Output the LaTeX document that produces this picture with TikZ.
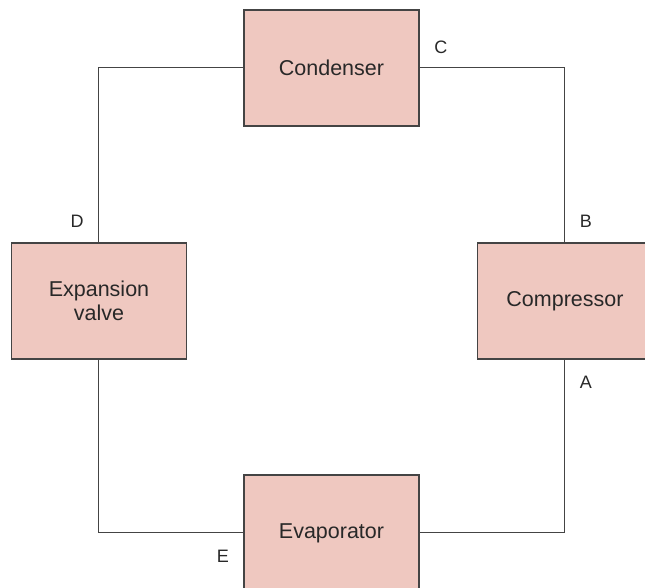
\documentclass[tikz,border=0pt]{standalone}
\usepackage{fontspec}
\setmainfont{Liberation Sans}
\usepackage{tikz}
\usetikzlibrary{positioning}
\definecolor{unitfill}{RGB}{239,200,192}
\definecolor{unitline}{RGB}{68,68,68}
\definecolor{unittext}{RGB}{40,40,40}

\begin{document}
\begin{tikzpicture}[
        x=0.5pt, y=-0.5pt,
        unit/.style={draw=unitline, rectangle, fill=unitfill, line width=0.65pt, minimum width=87.5pt, minimum height=58pt, align=center, text=unittext, font=\fontsize{10.75}{11.8}\selectfont, inner sep=0pt},
        pipe/.style={draw=unitline, line width=0.5pt},
        point/.style={text=unittext, font=\fontsize{9}{10}\selectfont, inner sep=0pt}
    ]
        \useasboundingbox (0,0) rectangle (645,588);
        \clip (0,0) rectangle (645,588);

        \node[unit] (cond) at (331.5,68) {Condenser};
        \node[unit] (valve) at (99,301) {Expansion\\valve};
        \node[unit] (comp) at (565,301) {Compressor};
        \node[unit] (evap) at (331.5,533) {Evaporator};

        \draw[pipe] (cond.west) -| (valve.north);
        \draw[pipe] (cond.east) -| (comp.north);
        \draw[pipe] (comp.south) |- (evap.east);
        \draw[pipe] (evap.west) -| (valve.south);

        \node[point] (ptC) at (441,47) {C};
        \node[point] (ptB) at (586,221) {B};
        \node[point] (ptD) at (77,221) {D};
        \node[point] (ptA) at (586,382) {A};
        \node[point] (ptE) at (223,556) {E};
    \end{tikzpicture}
\end{document}
